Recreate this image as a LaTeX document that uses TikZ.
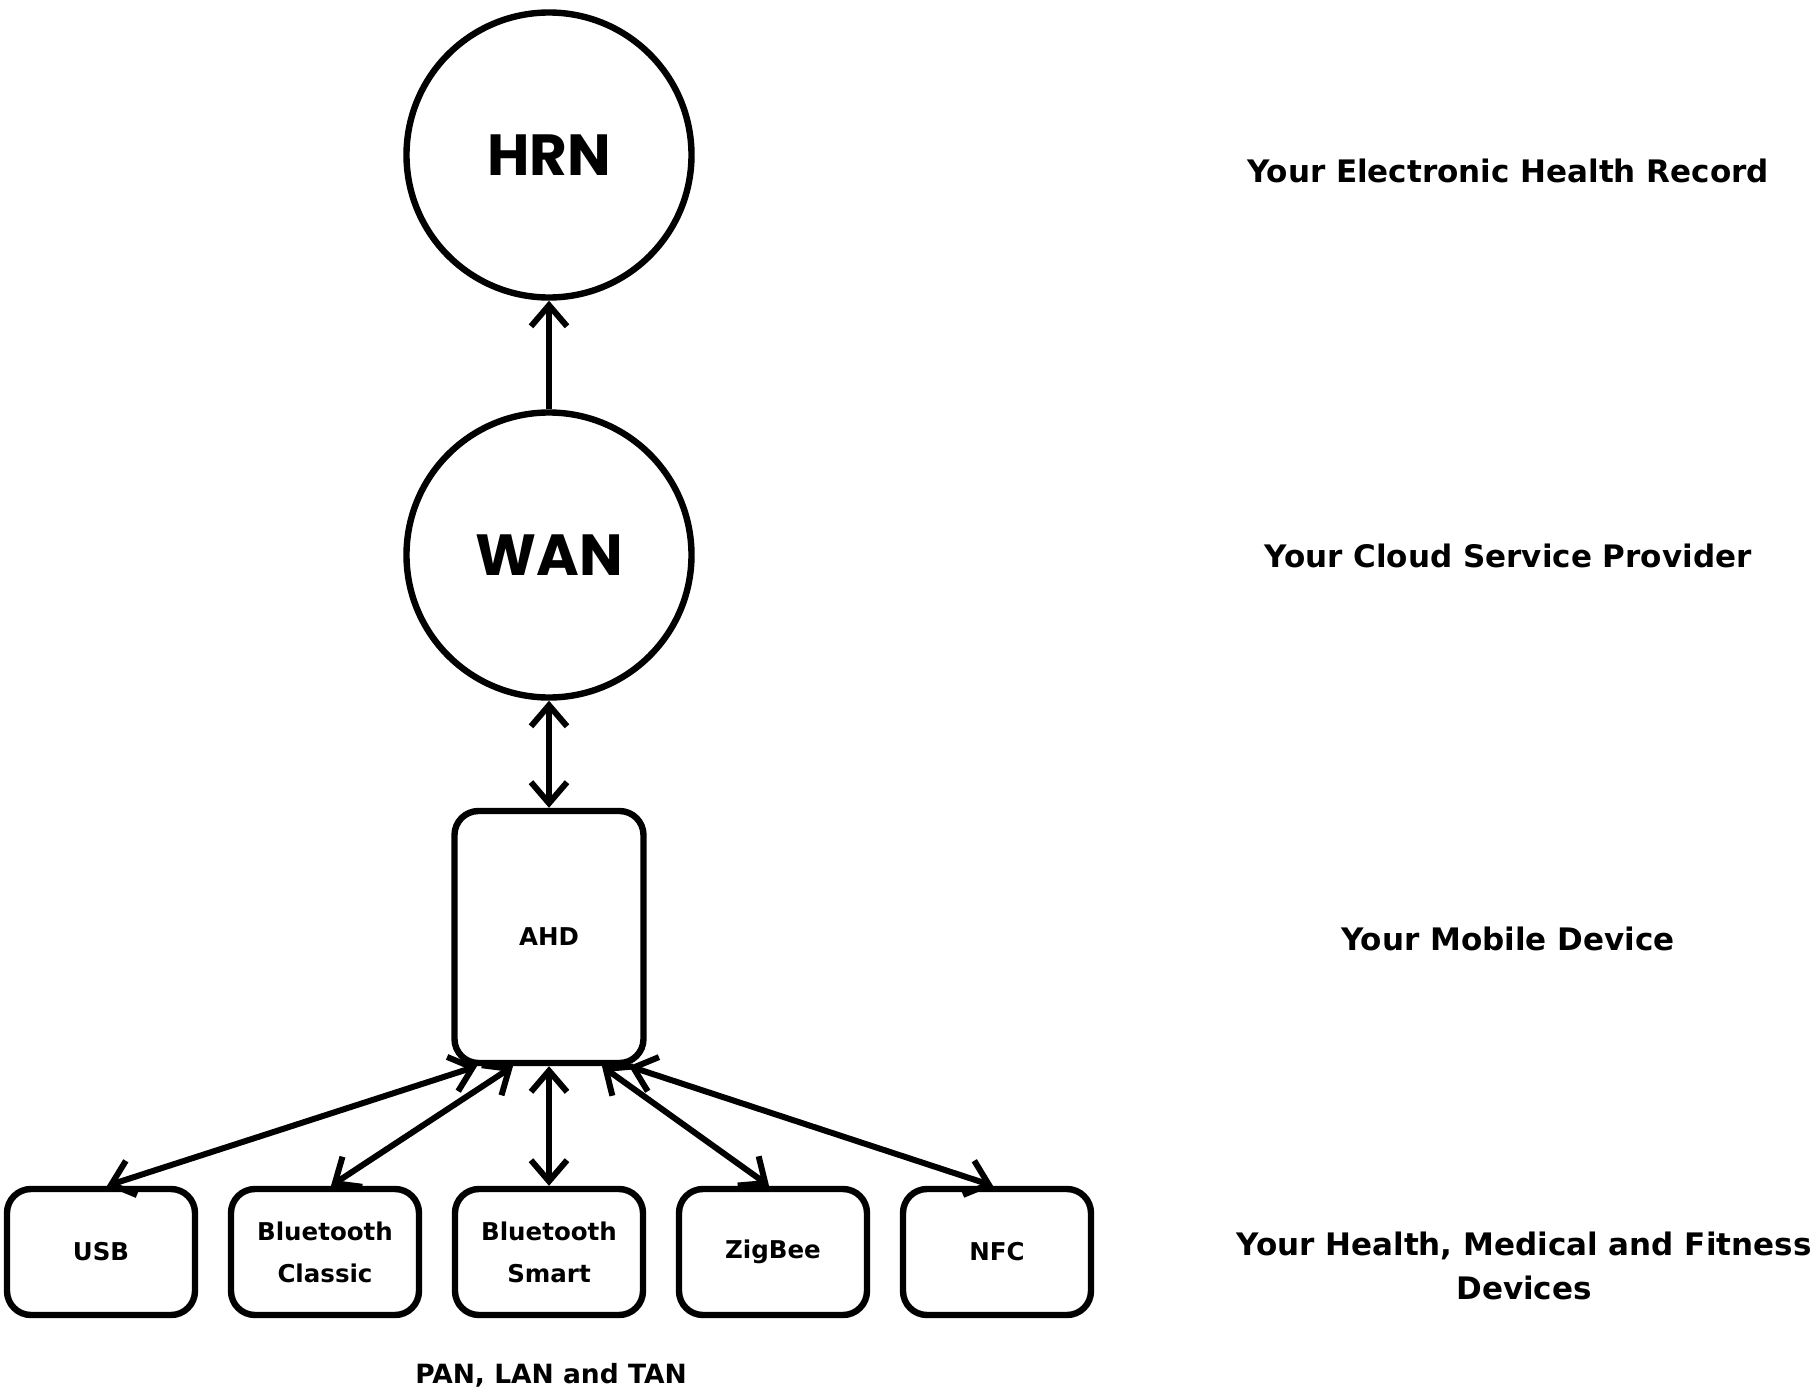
\documentclass[tikz,border=0pt]{standalone}
\usepackage{fontspec}
\setmainfont{DejaVu Sans}
\newfontfamily\geofont{Poppins}
\usetikzlibrary{arrows.meta, positioning, calc}
\tikzset{
	every text node part/.style = {align=center},
	netCircle/.style = {draw, circle, line width=6.4pt, minimum size=285pt, inner sep=0pt,
		font=\geofont\bfseries\fontsize{58}{64}\selectfont},
	devBox/.style = {draw, rounded corners=24pt, line width=6.4pt, inner sep=0pt,
		minimum width=188pt, minimum height=126pt, font=\bfseries\fontsize{24.5}{42}\selectfont},
	layerLabel/.style = {font=\bfseries\fontsize{31}{44}\selectfont},
	linkArrow/.style = {line width=6pt, {Straight Barb[length=21pt,width=36pt]}-{Straight Barb[length=21pt,width=36pt]}}
}

\begin{document}
\begin{tikzpicture}[x=1pt, y=-1pt]
	\useasboundingbox (0,0) rectangle (1816,1397);

	% network nodes
	\node [netCircle] (hrn) at (549,155) {HRN};
	\node [netCircle] (wan) at (549,555) {WAN};
	\node [devBox, minimum width=189pt, minimum height=252pt] (ahd) at (549,937) {AHD};

	% devices
	\node [devBox] (usb) at (101,1252) {USB};
	\node [devBox] (btc) at (325,1252) {Bluetooth\\Classic};
	\node [devBox] (bts) at (549,1252) {Bluetooth\\Smart};
	\node [devBox] (zig) at (773,1252) {ZigBee};
	\node [devBox] (nfc) at (997,1252) {NFC};

	% links
	\draw [line width=6pt, -{Straight Barb[length=21pt,width=36pt]}] (wan.north) -- (hrn.south);
	\draw [linkArrow] (wan.south) -- (ahd.north);
	\draw [linkArrow] ([xshift=6pt]usb.north) -- ([xshift=-72pt]ahd.south);
	\draw [linkArrow] ([xshift=6pt]btc.north) -- ([xshift=-36pt]ahd.south);
	\draw [linkArrow] (bts.north) -- (ahd.south);
	\draw [linkArrow] ([xshift=-4pt]zig.north) -- ([xshift=53pt]ahd.south);
	\draw [linkArrow] ([xshift=-4pt]nfc.north) -- ([xshift=80pt]ahd.south);

	% layer labels
	\node [layerLabel] (lblehr) at (1508,171) {Your Electronic Health Record};
	\node [layerLabel] (lblcsp) at (1508,556) {Your Cloud Service Provider};
	\node [layerLabel] (lblmob) at (1508,939) {Your Mobile Device};
	\node [layerLabel] (lbldev) at (1524,1266) {Your Health, Medical and Fitness\\Devices};
	\node [font=\bfseries\fontsize{26.5}{30}\selectfont] (lblnet) at (551,1375) {PAN, LAN and TAN};
\end{tikzpicture}
\end{document}
